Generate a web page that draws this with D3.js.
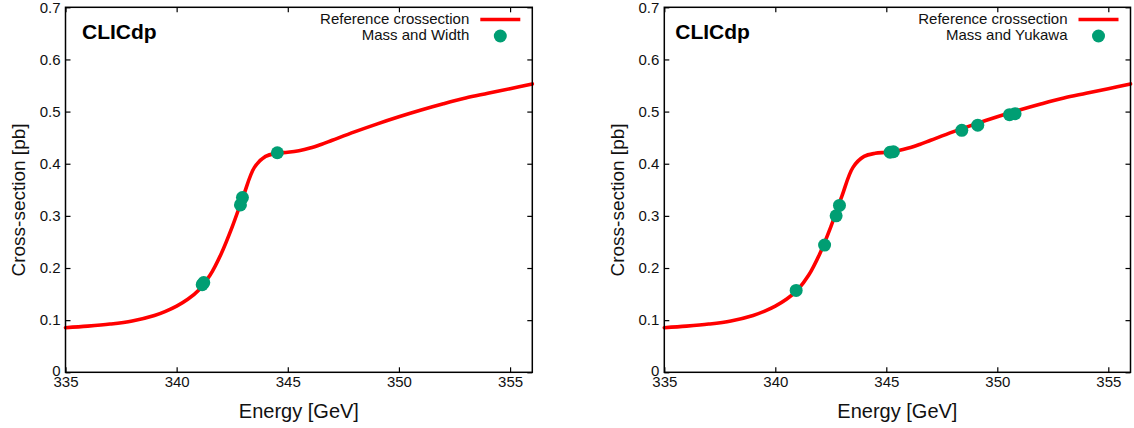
<!DOCTYPE html>
<html>
<head>
<meta charset="utf-8">
<script src="https://cdn.jsdelivr.net/npm/d3@7/dist/d3.min.js"></script>
<style>
  html, body { margin: 0; padding: 0; background: #fff; }
  svg { display: block; font-family: "Liberation Sans", Arial, sans-serif; }
</style>
</head>
<body>
<svg id="chart" width="1134" height="428"></svg>
<script>
// ---- data ----
const curveEnergy = [335.0, 336.0, 337.0, 338.0, 339.0, 339.5, 340.0, 340.5, 341.0, 341.5, 342.0, 342.5, 343.0, 343.5, 344.0, 344.5, 345.0, 345.5, 346.0, 346.5, 347.0, 348.0, 349.0, 350.0, 351.0, 352.0, 353.0, 354.0, 355.0, 356.0];
const curveXsec   = [0.0855, 0.0885, 0.0925, 0.0985, 0.109, 0.117, 0.127, 0.140, 0.158, 0.186, 0.227, 0.279, 0.338, 0.393, 0.414, 0.420, 0.422, 0.425, 0.430, 0.437, 0.445, 0.461, 0.476, 0.490, 0.503, 0.515, 0.526, 0.535, 0.544, 0.553];

const widthEnergy = [341.15, 341.22, 342.87, 342.96, 344.53];
const widthXsec   = [0.168, 0.172, 0.321, 0.335, 0.421];

const yukawaEnergy = [340.94, 342.22, 342.74, 342.89, 345.17, 345.32, 348.4, 349.12, 350.55, 350.8];
const yukawaXsec   = [0.157, 0.244, 0.300, 0.320, 0.422, 0.423, 0.464, 0.474, 0.494, 0.496];

const xTicks = [335, 340, 345, 350, 355];
const yTicks = [0, 0.1, 0.2, 0.3, 0.4, 0.5, 0.6, 0.7];
const xDomain = [335, 356];
const yDomain = [0, 0.7];

const legendCurve = "Reference crossection";
const panelLabels = ["Mass and Width", "Mass and Yukawa"];
const xTitle = "Energy [GeV]";
const yTitle = "Cross-section [pb]";
const brand = "CLICdp";

// ---- drawing ----
const svg = d3.select("#chart");
const RED = "#ff0000", GREEN = "#009e73";

const panels = [
  { x0: 65.5, x1: 532.3, brandDx: 16.5, yTitleX: 18, label: panelLabels[0], ex: widthEnergy, ey: widthXsec },
  { x0: 664.3, x1: 1130.5, brandDx: 11, yTitleX: 617, label: panelLabels[1], ex: yukawaEnergy, ey: yukawaXsec }
];
const yTop = 7.3, yBot = 372.3;

panels.forEach(p => {
  const x = d3.scaleLinear().domain(xDomain).range([p.x0, p.x1]);
  const y = d3.scaleLinear().domain(yDomain).range([yBot, yTop]);
  const g = svg.append("g");

  // curve
  const pts = curveEnergy.map((e, i) => [e, curveXsec[i]]);
  g.append("path")
    .datum(pts)
    .attr("fill", "none")
    .attr("stroke", RED)
    .attr("stroke-width", 3.6)
    .attr("stroke-linecap", "round")
    .attr("d", d3.line().x(d => x(d[0])).y(d => y(d[1])).curve(d3.curveCatmullRom.alpha(0.5)));

  // points
  g.selectAll("circle.pt")
    .data(p.ex.map((e, i) => [e, p.ey[i]]))
    .join("circle")
    .attr("class", "pt")
    .attr("cx", d => x(d[0]))
    .attr("cy", d => y(d[1]))
    .attr("r", 6.5)
    .attr("fill", GREEN);

  // axes (ticks inside, mirrored)
  const axB = g.append("g").attr("transform", `translate(0,${yBot})`)
    .call(d3.axisBottom(x).tickValues(xTicks).tickSize(-5).tickPadding(8).tickFormat(d3.format("d")));
  const axT = g.append("g").attr("transform", `translate(0,${yTop})`)
    .call(d3.axisTop(x).tickValues(xTicks).tickSize(-5).tickFormat(""));
  const axL = g.append("g").attr("transform", `translate(${p.x0},0)`)
    .call(d3.axisLeft(y).tickValues(yTicks).tickSize(-5).tickPadding(5).tickFormat(d => d === 0 ? "0" : d3.format(".1f")(d)));
  const axR = g.append("g").attr("transform", `translate(${p.x1},0)`)
    .call(d3.axisRight(y).tickValues(yTicks).tickSize(-5).tickFormat(""));

  [axB, axT, axL, axR].forEach(a => {
    a.select(".domain").remove();
    a.selectAll(".tick line").attr("stroke", "#000").attr("stroke-width", 1.2);
    a.selectAll("text").attr("fill", "#111").style("font-size", "15px").style("font-family", "'Liberation Sans', Arial, sans-serif");
  });
  axB.selectAll("text").attr("dy", "0.71em").attr("y", 4);
  axL.selectAll(".tick").filter(d => d === 0).select("text").attr("dy", "0.2em");

  // frame
  g.append("rect")
    .attr("x", p.x0).attr("y", yTop)
    .attr("width", p.x1 - p.x0).attr("height", yBot - yTop)
    .attr("fill", "none").attr("stroke", "#000").attr("stroke-width", 1.5);

  // brand
  g.append("text")
    .attr("x", p.x0 + p.brandDx).attr("y", 38.5)
    .attr("font-weight", "bold").attr("font-size", 21).attr("fill", "#000")
    .text(brand);

  // legend
  const tx = p.x1 - 63;
  g.append("text").attr("x", tx).attr("y", 24).attr("text-anchor", "end")
    .attr("font-size", 15).attr("fill", "#111").text(legendCurve);
  g.append("line").attr("x1", p.x1 - 52).attr("x2", p.x1 - 12).attr("y1", 19.5).attr("y2", 19.5)
    .attr("stroke", RED).attr("stroke-width", 3.6);
  g.append("text").attr("x", tx).attr("y", 40).attr("text-anchor", "end")
    .attr("font-size", 15).attr("fill", "#111").text(p.label);
  g.append("circle").attr("cx", p.x1 - 32).attr("cy", 36).attr("r", 6.5).attr("fill", GREEN);

  // axis titles
  g.append("text")
    .attr("x", (p.x0 + p.x1) / 2).attr("y", 418)
    .attr("text-anchor", "middle").attr("font-size", 20).attr("fill", "#111")
    .text(xTitle);
  g.append("text")
    .attr("transform", `translate(${p.yTitleX + 7},200) rotate(-90)`)
    .attr("text-anchor", "middle").attr("font-size", 19).attr("fill", "#111")
    .text(yTitle);
});
</script>
</body>
</html>
